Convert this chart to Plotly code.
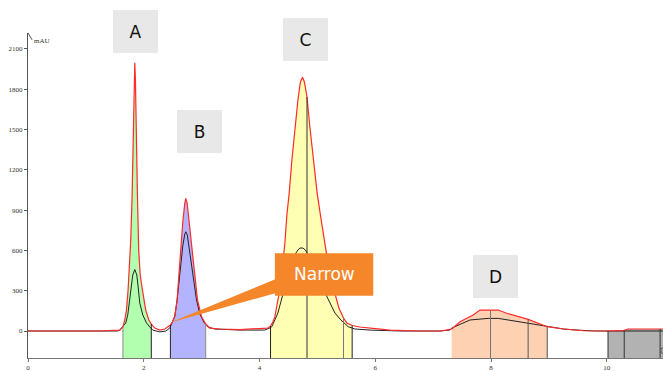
import numpy as np
import plotly.graph_objects as go

# ---- data (time in min, signal in mAU) ----
red_time = [0.00, 1.20, 1.585, 1.632, 1.64, 1.672, 1.701, 1.729, 1.758, 1.775, 1.798, 1.819, 1.833,
            1.845, 1.856, 1.873, 1.891, 1.912, 1.939, 1.977, 2.034, 2.087, 2.13, 2.19, 2.277, 2.363,
            2.415, 2.46, 2.493, 2.536, 2.576, 2.605, 2.64, 2.674, 2.709, 2.726, 2.749, 2.787, 2.842,
            2.882, 2.928, 2.997, 3.07, 3.14, 3.314, 3.66, 4.00, 4.143, 4.19, 4.23, 4.265, 4.30, 4.339,
            4.386, 4.438, 4.472, 4.512, 4.559, 4.611, 4.663, 4.706, 4.743, 4.775, 4.82, 4.869, 4.93,
            4.996, 5.06, 5.129, 5.215, 5.302, 5.371, 5.45, 5.509, 5.60, 5.73, 5.958, 6.252, 6.77,
            7.117, 7.22, 7.32, 7.464, 7.69, 7.808, 7.99, 8.124, 8.27, 8.64, 8.97, 9.25, 9.60, 9.79,
            10.02, 10.30, 10.366, 10.92, 10.97]
red_mau = [0, 0, 7, 22, 30, 82, 156, 305, 529, 678, 998, 1497, 1794,
           1998, 1869, 1348, 998, 603, 417, 305, 156, 82, 52, 22, 7, 15,
           30, 45, 67, 107, 231, 417, 603, 812, 953, 988, 953, 789, 603,
           380, 231, 107, 52, 22, 15, 11, 15, 22, 37, 67, 107, 194, 281,
           454, 653, 864, 1025, 1273, 1521, 1720, 1854, 1889, 1854, 1742, 1521, 1273,
           1025, 841, 653, 417, 281, 171, 97, 60, 41, 30, 20, 7, 0,
           0, 7, 15, 69, 119, 156, 156, 156, 132, 87, 32, 15, 2, 0,
           0, 5, 15, 15, 15]

black_time = [0.00, 1.55, 1.585, 1.637, 1.689, 1.723, 1.746, 1.775, 1.81, 1.845, 1.88, 1.905, 1.931,
              1.983, 2.047, 2.104, 2.156, 2.277, 2.381, 2.45, 2.50, 2.536, 2.576, 2.605, 2.64, 2.674,
              2.709, 2.726, 2.752, 2.787, 2.825, 2.864, 2.911, 2.968, 3.037, 3.106, 3.227, 3.66, 4.09,
              4.176, 4.212, 4.264, 4.317, 4.408, 4.467, 4.524, 4.593, 4.664, 4.697, 4.749, 4.792,
              4.853, 4.922, 4.996, 5.129, 5.215, 5.302, 5.405, 5.532, 5.647, 5.906, 6.425, 7.117,
              7.29, 7.32, 7.635, 7.95, 8.124, 8.64, 8.97, 9.25, 9.48, 9.79, 10.97]
black_mau = [0, 0, 7, 30, 60, 119, 208, 320, 417, 458, 417, 320, 208,
             119, 60, 30, 7, -7, 0, 22, 67, 112, 231, 357, 479, 633,
             722, 739, 715, 603, 479, 343, 231, 127, 67, 30, 15, 7, 7,
             22, 32, 82, 134, 281, 404, 491, 558, 603, 618, 618, 603,
             558, 491, 404, 281, 208, 134, 82, 32, 15, 7, 0, 0,
             7, 22, 82, 94, 94, 57, 32, 15, 7, 0, 0]

band_start = [1.64, 2.46, 4.19, 7.32, 10.02]
band_end = [2.13, 3.07, 5.60, 8.97, 10.97]
band_colors = ["#b3ffb0", "#b3b3ff", "#ffffb3", "#ffd1b3", "#b2b2b2"]

drop_time = [1.64, 2.13, 2.46, 3.07, 4.19, 4.82, 5.45, 5.60, 7.99, 8.64, 8.97, 10.02, 10.30, 10.92]
drop_colors = ["#8c8c8c", "#222222", "#222222", "#8c8c8c", "#222222", "#333333", "#777777",
               "#222222", "#777777", "#555555", "#555555", "#333333", "#333333", "#333333"]

peak_labels = ["A", "B", "C", "D"]
x_ticks = [0, 2, 4, 6, 8, 10]
y_ticks = [0, 300, 600, 900, 1200, 1500, 1800, 2100]

X_RANGE = [0, 10.97]
Y_RANGE = [-201, 2219]

fig = go.Figure()

rt = np.array(red_time, dtype=float)
rm = np.array(red_mau, dtype=float)

# integration bands: fill from axis bottom up to the red trace
for s, e, c in zip(band_start, band_end, band_colors):
    inner = rt[(rt > s) & (rt < e)]
    xs = np.concatenate([[s], inner, [e]])
    ys = np.interp(xs, rt, rm)
    px = [s] + list(xs) + [e, s]
    py = [Y_RANGE[0]] + list(ys) + [Y_RANGE[0], Y_RANGE[0]]
    fig.add_trace(go.Scatter(x=px, y=py, fill="toself", fillcolor=c, mode="lines",
                             line=dict(width=0), hoverinfo="skip"))

# black trace
fig.add_trace(go.Scatter(x=black_time, y=black_mau, mode="lines",
                         line=dict(color="#222222", width=1), hoverinfo="skip"))
# red trace
fig.add_trace(go.Scatter(x=red_time, y=red_mau, mode="lines",
                         line=dict(color="#ff2a2a", width=1.2), hoverinfo="skip"))

# drop lines
for t, c in zip(drop_time, drop_colors):
    top = float(np.interp(t, rt, rm))
    fig.add_trace(go.Scatter(x=[t, t], y=[Y_RANGE[0], top], mode="lines",
                             line=dict(color=c, width=1), hoverinfo="skip"))

shapes = [
    # y-axis arrow head
    dict(type="line", x0=-0.07, y0=2168, x1=0, y1=2219, line=dict(color="#555", width=1)),
    dict(type="line", x0=0.07, y0=2168, x1=0, y1=2219, line=dict(color="#555", width=1)),
    # Narrow callout
    dict(type="path", path="M 2.449,62 L 4.27,385 L 4.27,281 Z",
         fillcolor="#f5862a", line=dict(width=0), layer="above"),
    dict(type="rect", x0=4.265, x1=5.964, y0=263, y1=579,
         fillcolor="#f5862a", line=dict(width=0), layer="above"),
]

label_pos = [(0.1693, 1.0046), (0.2701, 0.6954), (0.4370, 0.9800), (0.7362, 0.2508)]
annotations = []
for lab, (ax_, ay_) in zip(peak_labels, label_pos):
    annotations.append(dict(text=lab, x=ax_, y=ay_, xref="paper", yref="paper",
                            xanchor="center", yanchor="middle", showarrow=False,
                            width=45, height=43, bgcolor="#e8e8e8", borderpad=0, borderwidth=0,
                            font=dict(family="DejaVu Sans", size=17, color="#111")))
annotations.append(dict(text="Narrow", x=5.115, y=421, xref="x", yref="y", showarrow=False,
                        font=dict(family="DejaVu Sans", size=17, color="white")))
annotations.append(dict(text="mAU", x=0.07, y=2160, xref="x", yref="y", showarrow=False,
                        xanchor="left", yanchor="middle",
                        font=dict(family="Liberation Serif", size=7, color="#333")))
annotations.append(dict(text="G", x=10.885, y=-150, xref="x", yref="y", showarrow=False,
                        xanchor="left", yanchor="middle",
                        font=dict(family="DejaVu Sans", size=9, color="#555")))

fig.update_layout(
    width=663, height=371,
    margin=dict(l=28, r=0, t=33, b=13),
    plot_bgcolor="white", paper_bgcolor="white",
    showlegend=False,
    shapes=shapes, annotations=annotations,
    xaxis=dict(range=X_RANGE, tickvals=x_ticks, ticktext=[str(v) for v in x_ticks],
               showline=True, linecolor="#777", linewidth=1, ticks="outside", ticklen=3,
               tickcolor="#777", showgrid=False, zeroline=False, automargin=False,
               tickfont=dict(family="Liberation Serif", size=7, color="#333")),
    yaxis=dict(range=Y_RANGE, tickvals=y_ticks, ticktext=[str(v) for v in y_ticks],
               showline=True, linecolor="#555", linewidth=1, ticks="outside", ticklen=3,
               tickcolor="#555", showgrid=False, zeroline=False, automargin=False,
               tickfont=dict(family="Liberation Serif", size=7, color="#333")),
)

fig.write_html("out.html", config={"displayModeBar": False},
               post_script="document.body.style.margin='0';")
